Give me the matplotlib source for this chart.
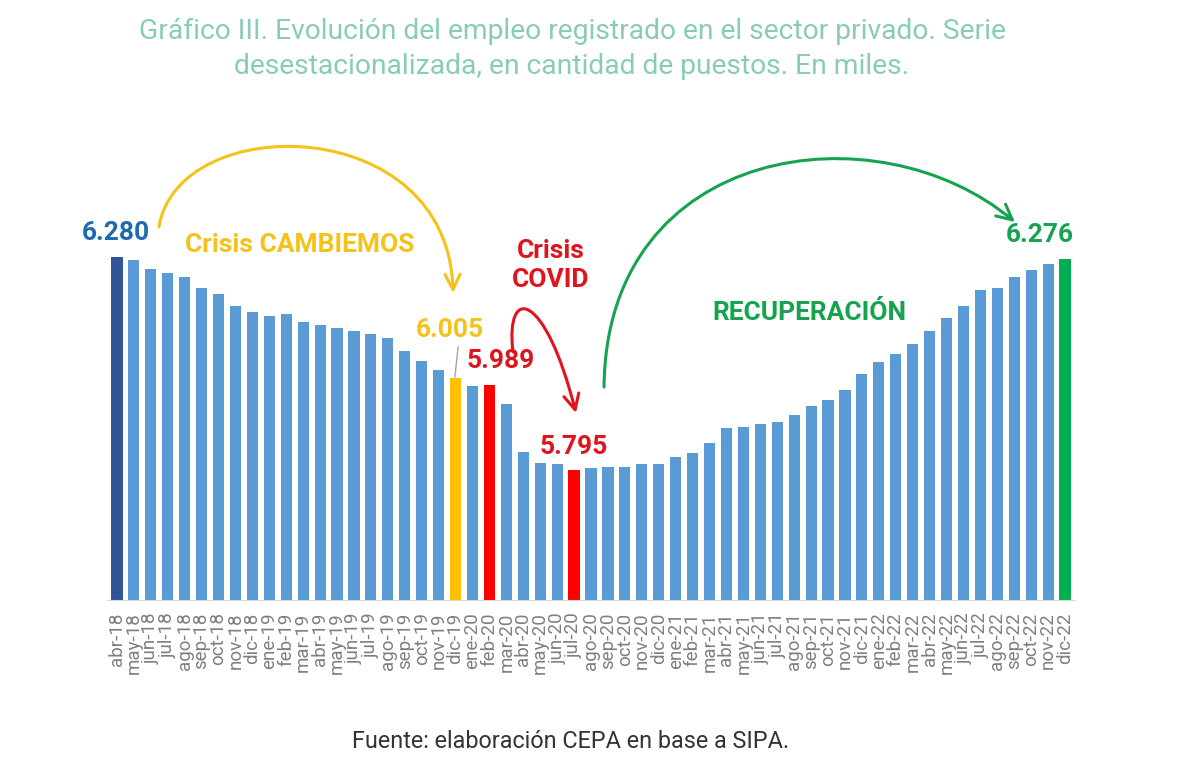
import numpy as np
import matplotlib
matplotlib.use("Agg")
import matplotlib.pyplot as plt
from matplotlib.patches import FancyArrowPatch
from matplotlib.path import Path

plt.rcParams['font.family'] = ['Roboto', 'DejaVu Sans']

# Empleo registrado privado, serie desestacionalizada (miles de puestos)
months = ['abr-18', 'may-18', 'jun-18', 'jul-18', 'ago-18', 'sep-18', 'oct-18', 'nov-18', 'dic-18',
          'ene-19', 'feb-19', 'mar-19', 'abr-19', 'may-19', 'jun-19', 'jul-19', 'ago-19', 'sep-19',
          'oct-19', 'nov-19', 'dic-19',
          'ene-20', 'feb-20', 'mar-20', 'abr-20', 'may-20', 'jun-20', 'jul-20', 'ago-20', 'sep-20',
          'oct-20', 'nov-20', 'dic-20',
          'ene-21', 'feb-21', 'mar-21', 'abr-21', 'may-21', 'jun-21', 'jul-21', 'ago-21', 'sep-21',
          'oct-21', 'nov-21', 'dic-21',
          'ene-22', 'feb-22', 'mar-22', 'abr-22', 'may-22', 'jun-22', 'jul-22', 'ago-22', 'sep-22',
          'oct-22', 'nov-22', 'dic-22']
empleo = [6280, 6274, 6253, 6244, 6235, 6210, 6196, 6169, 6154,
          6146, 6149, 6131, 6124, 6119, 6112, 6105, 6096, 6067,
          6043, 6023, 6005,
          5986, 5989, 5945, 5836, 5812, 5808, 5795, 5799, 5802,
          5803, 5809, 5809,
          5825, 5835, 5856, 5890, 5893, 5900, 5904, 5921, 5940,
          5954, 5978, 6013,
          6042, 6059, 6081, 6111, 6141, 6169, 6204, 6210, 6235,
          6251, 6263, 6276]

# bars highlighted with their own colour
highlight = {'abr-18': '#2f5597', 'dic-19': '#ffc000', 'feb-20': '#ff0000',
             'jul-20': '#ff0000', 'dic-22': '#00b050'}

BLUE = '#5b9bd5'
YELLOW = '#f5c21b'
RED = '#e0141c'
GREEN = '#16a34f'

fig = plt.figure(figsize=(12, 7.64), dpi=100)
ax = fig.add_axes([0.089, 0.2147, 0.807, 0.6103])

x = np.arange(len(months))
colors = [highlight.get(m, BLUE) for m in months]
ax.bar(x, empleo, width=0.66, color=colors, zorder=2)

ax.set_xlim(-0.6, len(months) - 0.4)
ax.set_ylim(5500, 6560)
ax.set_xticks(x)
ax.set_xticklabels(months, rotation=90, fontsize=13.5, color='#7f7f7f')
ax.tick_params(axis='x', length=0, pad=9)
ax.set_yticks([])
for s in ['top', 'right', 'left']:
    ax.spines[s].set_visible(False)
ax.spines['bottom'].set_color('#d9d9d9')
ax.spines['bottom'].set_linewidth(0.8)


def fmt(v):
    return f"{v:,.0f}".replace(',', '.')


def val(m):
    return empleo[months.index(m)]


def curve(pts, color):
    path = Path(pts, [Path.MOVETO, Path.CURVE4, Path.CURVE4, Path.CURVE4])
    arr = FancyArrowPatch(path=path, arrowstyle='->,head_length=1.1,head_width=0.55',
                          mutation_scale=10, color=color, lw=2.2,
                          transform=ax.transData, clip_on=False, zorder=3)
    ax.add_patch(arr)


lbl = dict(fontsize=19, fontweight='bold', ha='center', va='center', clip_on=False)

# value labels
ax.text(-0.06, 6334, fmt(val('abr-18')), color='#1f6bb0', **lbl)
ax.text(19.67, 6114, fmt(val('dic-19')), color=YELLOW, **lbl)
ax.text(22.68, 6043, fmt(val('feb-20')), color=RED, **lbl)
ax.text(26.99, 5848, fmt(val('jul-20')), color=RED, **lbl)
ax.text(54.52, 6330, fmt(val('dic-22')), color=GREEN, **lbl)
ax.plot([20.15, 19.96], [6075, 6007], color='#a6a6a6', lw=1, zorder=3)

# periods
ax.text(10.81, 6307, 'Crisis CAMBIEMOS', color=YELLOW, **lbl)
ax.text(25.63, 6261, 'Crisis\nCOVID', color=RED, linespacing=1.25, **lbl)
ax.text(40.93, 6152, 'RECUPERACIÓN', color=GREEN, **lbl)

curve([(2.48, 6348), (3.6, 6614), (19.6, 6610), (19.85, 6198)], YELLOW)
curve([(23.39, 6064), (22.92, 6216), (25.28, 6205), (27.11, 5925)], RED)
curve([(28.77, 5984), (28.9, 6540), (45.0, 6620), (53.04, 6359)], GREEN)

fig.text(572 / 1200, 1 - 49 / 764,
         'Gráfico III. Evolución del empleo registrado en el sector privado. Serie\n'
         'desestacionalizada, en cantidad de puestos. En miles.',
         ha='center', va='center', fontsize=20.3, color='#88ccb8', linespacing=1.38)
fig.text(571 / 1200, 1 - 742 / 764, 'Fuente: elaboración CEPA en base a SIPA.',
         ha='center', va='center', fontsize=16.8, color='#333333')

fig.savefig('out.png', dpi=100)
